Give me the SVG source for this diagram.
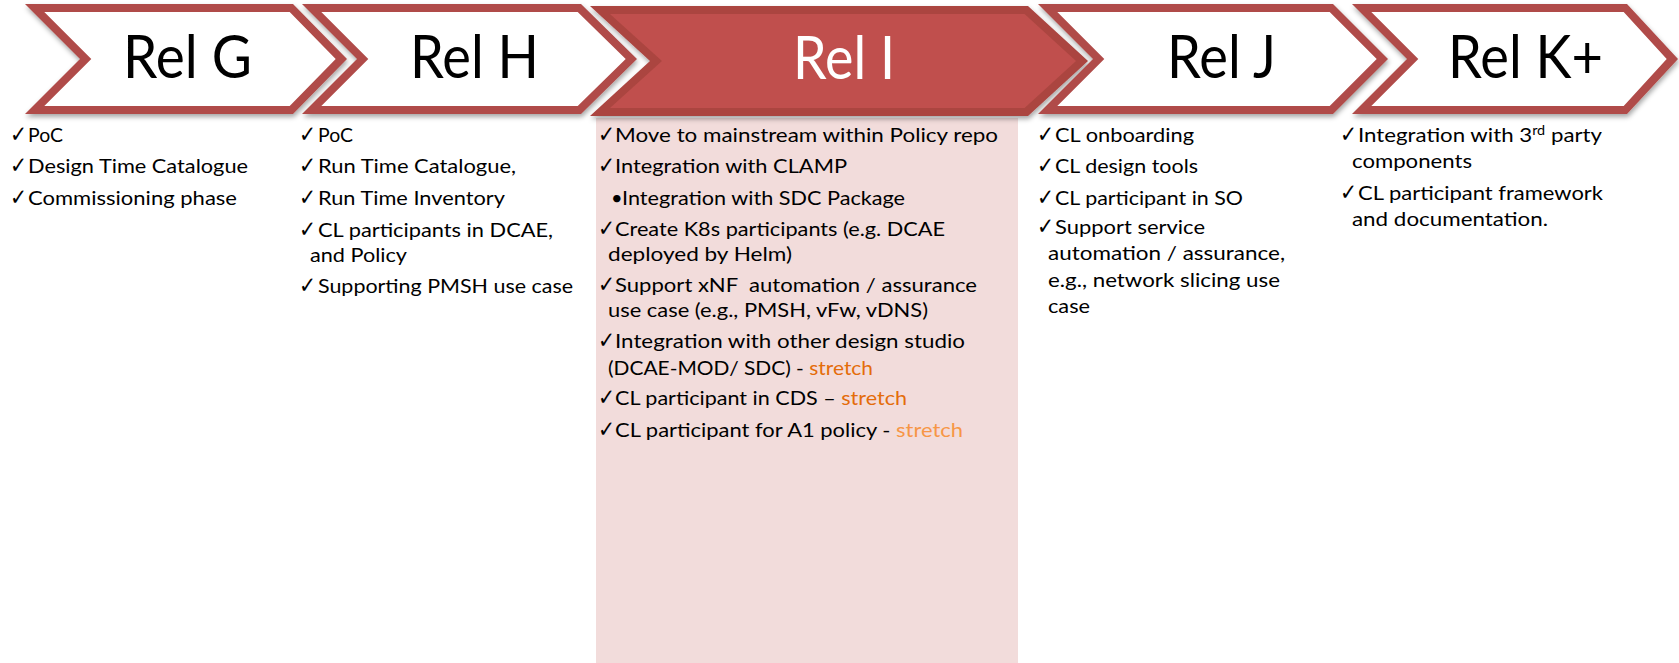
<svg xmlns="http://www.w3.org/2000/svg" width="1679" height="663" viewBox="0 0 1679 663">
<style>
.band{fill:#B04B48}
.inner{fill:#FFFFFF}
.bandI{fill:#AB4541}
.innerI{fill:#C0504D}
.title{font-family:Lato,"Liberation Sans",sans-serif;font-size:60px;fill:#000000}
.titleI{fill:#FFFFFF}
.t{font-family:Lato,"Liberation Sans",sans-serif;font-size:20px;fill:#000000}
.ck{font-family:"DejaVu Sans",sans-serif;font-size:23px;fill:#000000}
.st{fill:#E46C0A}
.st2{fill:#F79646}
</style>
<defs>
<filter id="sh" x="-5%" y="-10%" width="110%" height="130%">
<feDropShadow dx="1" dy="3" stdDeviation="2.5" flood-color="#000" flood-opacity="0.35"/>
</filter>
</defs>

<rect id="highlight" x="596" y="118" width="422" height="545" fill="#F2DCDB"/>

<g id="node-relG" filter="url(#sh)">
<polygon class="band" points="25,4 293,4 347,59 293,114 25,114 80,59"/>
<polygon class="inner" points="44.3,12 289.7,12 335.7,59 289.7,106 44.3,106 91.3,59"/>
<text class="title" x="123" y="78" textLength="129" lengthAdjust="spacingAndGlyphs">Rel G</text>
</g>

<g id="node-relH" filter="url(#sh)">
<polygon class="band" points="302,4 581,4 637,59 581,114 302,114 357,59"/>
<polygon class="inner" points="321.3,12 577.7,12 625.7,59 577.7,106 321.3,106 368.3,59"/>
<text class="title" x="410" y="78" textLength="129" lengthAdjust="spacingAndGlyphs">Rel H</text>
</g>

<g id="node-relI" filter="url(#sh)">
<polygon class="bandI" points="590,6 1028,6 1088,61 1028,116 590,116 650,61"/>
<polygon class="innerI" points="610,14 1024.5,14 1076,61 1024.5,108 610,108 662,61"/>
<text class="title titleI" x="793" y="79" textLength="102" lengthAdjust="spacingAndGlyphs">Rel I</text>
</g>

<g id="node-relJ" filter="url(#sh)">
<polygon class="band" points="1038,4 1333,4 1388,59 1333,114 1038,114 1093,59"/>
<polygon class="inner" points="1057.3,12 1329.7,12 1376.7,59 1329.7,106 1057.3,106 1104.3,59"/>
<text class="title" x="1167" y="78" textLength="109" lengthAdjust="spacingAndGlyphs">Rel J</text>
</g>

<g id="node-relK" filter="url(#sh)">
<polygon class="band" points="1352,4 1627,4 1678,59 1627,114 1352,114 1407,59"/>
<polygon class="inner" points="1371.3,12 1623.7,12 1666.7,59 1623.7,106 1371.3,106 1418.3,59"/>
<text class="title" x="1448" y="78" textLength="155" lengthAdjust="spacingAndGlyphs">Rel K+</text>
</g>

<g id="connectors"></g>

<g id="list-relG">
<text class="ck" x="10" y="142" textLength="17" lengthAdjust="spacingAndGlyphs">✓</text>
<text class="t" x="28" y="142" textLength="35" lengthAdjust="spacingAndGlyphs">PoC</text>
<text class="ck" x="10" y="173" textLength="17" lengthAdjust="spacingAndGlyphs">✓</text>
<text class="t" x="28" y="173" textLength="220" lengthAdjust="spacingAndGlyphs">Design Time Catalogue</text>
<text class="ck" x="10" y="205" textLength="17" lengthAdjust="spacingAndGlyphs">✓</text>
<text class="t" x="28" y="205" textLength="209" lengthAdjust="spacingAndGlyphs">Commissioning phase</text>
</g>

<g id="list-relH">
<text class="ck" x="299" y="142" textLength="17" lengthAdjust="spacingAndGlyphs">✓</text>
<text class="t" x="318" y="142" textLength="35" lengthAdjust="spacingAndGlyphs">PoC</text>
<text class="ck" x="299" y="173" textLength="17" lengthAdjust="spacingAndGlyphs">✓</text>
<text class="t" x="318" y="173" textLength="198" lengthAdjust="spacingAndGlyphs">Run Time Catalogue,</text>
<text class="ck" x="299" y="205" textLength="17" lengthAdjust="spacingAndGlyphs">✓</text>
<text class="t" x="318" y="205" textLength="187" lengthAdjust="spacingAndGlyphs">Run Time Inventory</text>
<text class="ck" x="299" y="237" textLength="17" lengthAdjust="spacingAndGlyphs">✓</text>
<text class="t" x="318" y="237" textLength="235" lengthAdjust="spacingAndGlyphs">CL participants in DCAE,</text>
<text class="t" x="310" y="262" textLength="97" lengthAdjust="spacingAndGlyphs">and Policy</text>
<text class="ck" x="299" y="293" textLength="17" lengthAdjust="spacingAndGlyphs">✓</text>
<text class="t" x="318" y="293" textLength="255" lengthAdjust="spacingAndGlyphs">Supporting PMSH use case</text>
</g>

<g id="list-relI">
<text class="ck" x="598" y="142" textLength="17" lengthAdjust="spacingAndGlyphs">✓</text>
<text class="t" x="615" y="142" textLength="383" lengthAdjust="spacingAndGlyphs">Move to mainstream within Policy repo</text>
<text class="ck" x="598" y="173" textLength="17" lengthAdjust="spacingAndGlyphs">✓</text>
<text class="t" x="615" y="173" textLength="232" lengthAdjust="spacingAndGlyphs">Integration with CLAMP</text>
<text class="t" x="611" y="205">•</text>
<text class="t" x="622" y="205" textLength="283" lengthAdjust="spacingAndGlyphs">Integration with SDC Package</text>
<text class="ck" x="598" y="236" textLength="17" lengthAdjust="spacingAndGlyphs">✓</text>
<text class="t" x="615" y="236" textLength="330" lengthAdjust="spacingAndGlyphs">Create K8s participants (e.g. DCAE</text>
<text class="t" x="608" y="261" textLength="184" lengthAdjust="spacingAndGlyphs">deployed by Helm)</text>
<text class="ck" x="598" y="292" textLength="17" lengthAdjust="spacingAndGlyphs">✓</text>
<text class="t" x="615" y="292" textLength="362" lengthAdjust="spacingAndGlyphs" xml:space="preserve">Support xNF  automation / assurance</text>
<text class="t" x="608" y="317" textLength="320" lengthAdjust="spacingAndGlyphs">use case (e.g., PMSH, vFw, vDNS)</text>
<text class="ck" x="598" y="348" textLength="17" lengthAdjust="spacingAndGlyphs">✓</text>
<text class="t" x="615" y="348" textLength="350" lengthAdjust="spacingAndGlyphs">Integration with other design studio</text>
<text class="t" x="608" y="375" textLength="265" lengthAdjust="spacingAndGlyphs">(DCAE-MOD/ SDC) - <tspan class="st">stretch</tspan></text>
<text class="ck" x="598" y="405" textLength="17" lengthAdjust="spacingAndGlyphs">✓</text>
<text class="t" x="615" y="405" textLength="292" lengthAdjust="spacingAndGlyphs">CL participant in CDS – <tspan class="st">stretch</tspan></text>
<text class="ck" x="598" y="437" textLength="17" lengthAdjust="spacingAndGlyphs">✓</text>
<text class="t" x="615" y="437" textLength="348" lengthAdjust="spacingAndGlyphs">CL participant for A1 policy - <tspan class="st2">stretch</tspan></text>
</g>

<g id="list-relJ">
<text class="ck" x="1037" y="142" textLength="17" lengthAdjust="spacingAndGlyphs">✓</text>
<text class="t" x="1055" y="142" textLength="139" lengthAdjust="spacingAndGlyphs">CL onboarding</text>
<text class="ck" x="1037" y="173" textLength="17" lengthAdjust="spacingAndGlyphs">✓</text>
<text class="t" x="1055" y="173" textLength="143" lengthAdjust="spacingAndGlyphs">CL design tools</text>
<text class="ck" x="1037" y="205" textLength="17" lengthAdjust="spacingAndGlyphs">✓</text>
<text class="t" x="1055" y="205" textLength="188" lengthAdjust="spacingAndGlyphs">CL participant in SO</text>
<text class="ck" x="1037" y="234" textLength="17" lengthAdjust="spacingAndGlyphs">✓</text>
<text class="t" x="1055" y="234" textLength="150" lengthAdjust="spacingAndGlyphs">Support service</text>
<text class="t" x="1048" y="260" textLength="237" lengthAdjust="spacingAndGlyphs">automation / assurance,</text>
<text class="t" x="1048" y="287" textLength="232" lengthAdjust="spacingAndGlyphs">e.g., network slicing use</text>
<text class="t" x="1048" y="313" textLength="42" lengthAdjust="spacingAndGlyphs">case</text>
</g>

<g id="list-relK">
<text class="ck" x="1340" y="142" textLength="17" lengthAdjust="spacingAndGlyphs">✓</text>
<text class="t" x="1358" y="142" textLength="244" lengthAdjust="spacingAndGlyphs">Integration with 3<tspan font-size="13" dy="-7">rd</tspan><tspan dy="7"> party</tspan></text>
<text class="t" x="1352" y="168" textLength="120" lengthAdjust="spacingAndGlyphs">components</text>
<text class="ck" x="1340" y="200" textLength="17" lengthAdjust="spacingAndGlyphs">✓</text>
<text class="t" x="1358" y="200" textLength="245" lengthAdjust="spacingAndGlyphs">CL participant framework</text>
<text class="t" x="1352" y="226" textLength="196" lengthAdjust="spacingAndGlyphs">and documentation.</text>
</g>
</svg>
